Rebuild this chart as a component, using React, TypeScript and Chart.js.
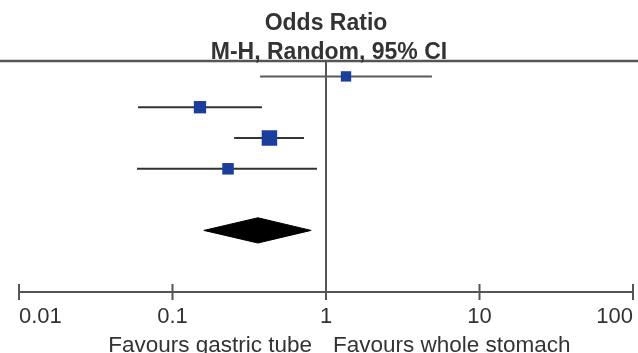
import React, { useEffect, useRef } from "react";
import { Chart, registerables } from "chart.js";

Chart.register(...registerables);

const studyOR = [1.35, 0.151, 0.428, 0.23];
const studyLower = [0.372, 0.0596, 0.252, 0.0587];
const studyUpper = [4.9, 0.383, 0.719, 0.874];
const studyWeight = [17, 24, 38, 21];
const pooledOR = 0.36;
const pooledLower = 0.16;
const pooledUpper = 0.8;
const tickValues = [0.01, 0.1, 1, 10, 100];
const tickLabels = ["0.01", "0.1", "1", "10", "100"];
const titleLines = ["Odds Ratio", "M-H, Random, 95% CI"];
const favourLeft = "Favours gastric tube";
const favourRight = "Favours whole stomach";

const FONT = '"Liberation Sans", Arial, Helvetica, sans-serif';
const TEXT = "#333333";
const LINE = "#555555";

export default function App() {
  const ref = useRef<HTMLCanvasElement | null>(null);
  useEffect(() => {
    const canvas = ref.current;
    if (!canvas) return;
    const pooledRow = studyOR.length + 1;
    const maxW = Math.max(...studyWeight);

    const ciSets = studyOR.map((_, i) => ({
      type: "scatter" as const,
      data: [
        { x: studyLower[i], y: i },
        { x: studyUpper[i], y: i },
      ],
      showLine: true,
      borderColor: i === 0 ? "#5a5a5a" : "#333333",
      borderWidth: 2,
      pointRadius: 0,
      order: 3,
    }));

    const squares = {
      type: "scatter" as const,
      data: studyOR.map((v, i) => ({ x: v, y: i })),
      pointStyle: "rect",
      pointRadius: studyWeight.map((w) => (15.5 * Math.sqrt(w / maxW)) / Math.SQRT2),
      backgroundColor: "#1b3d9c",
      borderColor: "#1b3d9c",
      borderWidth: 0,
      order: 1,
    };

    const h = 0.41;
    const diamond = {
      type: "scatter" as const,
      data: [
        { x: pooledLower, y: pooledRow },
        { x: pooledOR, y: pooledRow - h },
        { x: pooledUpper, y: pooledRow },
        { x: pooledOR, y: pooledRow + h },
        { x: pooledLower, y: pooledRow },
      ],
      showLine: true,
      fill: "shape",
      backgroundColor: "#000000",
      borderColor: "#000000",
      borderWidth: 1,
      pointRadius: 0,
      tension: 0,
      order: 2,
    };

    const decor = {
      id: "forestDecor",
      beforeDatasetsDraw(chart: any) {
        const { ctx, chartArea, scales } = chart;
        const xs = scales.x;
        ctx.save();
        ctx.strokeStyle = LINE;
        ctx.lineWidth = 2;
        const x1 = Math.round(xs.getPixelForValue(1));
        ctx.beginPath();
        ctx.moveTo(x1, chartArea.top);
        ctx.lineTo(x1, chartArea.bottom);
        ctx.stroke();
        ctx.restore();
      },
      afterDraw(chart: any) {
        const { ctx, chartArea, scales, width } = chart;
        const xs = scales.x;
        ctx.save();
        ctx.strokeStyle = LINE;
        ctx.lineWidth = 2.5;
        ctx.beginPath();
        ctx.moveTo(0, chartArea.top);
        ctx.lineTo(width, chartArea.top);
        ctx.stroke();
        ctx.lineWidth = 2;
        const left = xs.getPixelForValue(tickValues[0]);
        const right = xs.getPixelForValue(tickValues[tickValues.length - 1]);
        const ay = chartArea.bottom;
        ctx.beginPath();
        ctx.moveTo(left, ay);
        ctx.lineTo(right, ay);
        ctx.stroke();
        ctx.fillStyle = TEXT;
        ctx.font = `22px ${FONT}`;
        ctx.textBaseline = "alphabetic";
        tickValues.forEach((v, i) => {
          const px = xs.getPixelForValue(v);
          ctx.beginPath();
          ctx.moveTo(px, ay - 8);
          ctx.lineTo(px, ay + 8);
          ctx.stroke();
          ctx.textAlign = i === 0 ? "left" : i === tickValues.length - 1 ? "right" : "center";
          ctx.fillText(tickLabels[i], px, ay + 31);
        });
        const x1 = xs.getPixelForValue(1);
        ctx.font = `22.5px ${FONT}`;
        ctx.textAlign = "right";
        ctx.fillText(favourLeft, x1 - 14, ay + 60);
        ctx.textAlign = "left";
        ctx.fillText(favourRight, x1 + 7, ay + 60);
        ctx.font = `bold 23px ${FONT}`;
        ctx.textAlign = "center";
        ctx.fillText(titleLines[0], x1, chartArea.top - 31);
        ctx.fillText(titleLines[1], x1 + 3, chartArea.top - 2);
        ctx.restore();
      },
    };

    const chart = new Chart(canvas, {
      type: "scatter",
      data: { datasets: [...ciSets, diamond, squares] as any },
      options: {
        animation: false,
        responsive: false,
        events: [],
        layout: { autoPadding: false, padding: { left: 19, right: 5, top: 61, bottom: 61 } },
        plugins: { legend: { display: false }, tooltip: { enabled: false } },
        scales: {
          x: { type: "logarithmic", min: 0.01, max: 100, display: false },
          y: { type: "linear", min: -0.5, max: 7, reverse: true, display: false },
        },
      } as any,
      plugins: [decor],
    });
    return () => chart.destroy();
  }, []);

  return (
    <div style={{ position: "fixed", left: 0, top: 0, width: 638, height: 353, background: "#fff" }}>
      <canvas ref={ref} width={638} height={353} style={{ width: 638, height: 353, display: "block" }} />
    </div>
  );
}
